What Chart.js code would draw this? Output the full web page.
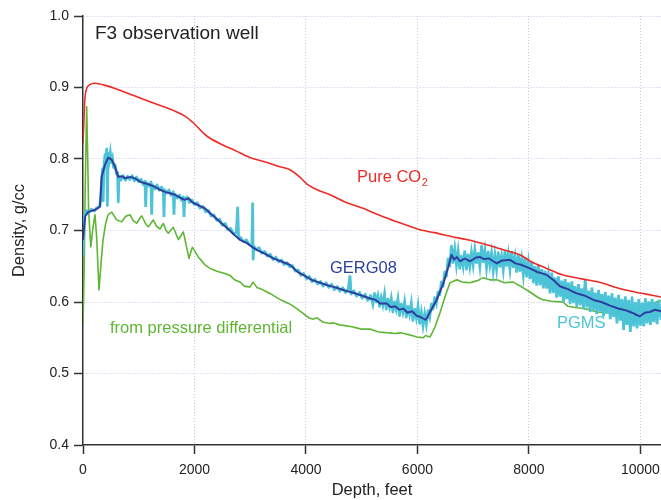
<!DOCTYPE html>
<html>
<head>
<meta charset="utf-8">
<title>F3 observation well</title>
<script src="https://cdn.jsdelivr.net/npm/chart.js@4.4.1/dist/chart.umd.min.js"></script>
<style>
	html, body { margin: 0; padding: 0; background: #fff; }
	#wrap { width: 661px; height: 500px; position: relative; }
</style>
</head>
<body>
<div id="wrap"><canvas id="chart"></canvas></div>
<script>
// axis ticks
const depthTicks = [0, 2000, 4000, 6000, 8000, 10000];
const densityTicks = [0.4, 0.5, 0.6, 0.7, 0.8, 0.9, 1.0];

// [depth ft, density g/cc]
const pureCO2 = [
	[0, 0.822], [15, 0.850], [35, 0.885], [66, 0.899], [120, 0.904], [215, 0.906],
	[400, 0.903], [600, 0.898], [897, 0.889], [1200, 0.880], [1450, 0.873], [1615, 0.868],
	[1830, 0.860], [2000, 0.849], [2150, 0.837], [2278, 0.829], [2500, 0.820], [2750, 0.811],
	[2996, 0.802], [3300, 0.795], [3500, 0.790], [3714, 0.785], [3900, 0.774], [4019, 0.765],
	[4200, 0.757], [4431, 0.750], [4700, 0.740], [5023, 0.731], [5300, 0.722], [5600, 0.713],
	[6044, 0.701], [6300, 0.697], [6642, 0.691], [6900, 0.687], [7240, 0.680], [7500, 0.674],
	[7838, 0.666], [8050, 0.656], [8318, 0.647], [8600, 0.638], [8970, 0.632], [9300, 0.627],
	[9580, 0.620], [9900, 0.614], [10100, 0.611], [10370, 0.607],
];

const gerg08 = [
	[0, 0.687], [20, 0.705], [40, 0.720], [95, 0.726], [215, 0.729], [305, 0.733],
	[335, 0.775], [395, 0.792], [454, 0.802], [515, 0.799], [574, 0.789], [633, 0.775],
	[700, 0.776], [753, 0.773], [850, 0.775], [933, 0.773], [1030, 0.768], [1112, 0.766],
	[1200, 0.764], [1292, 0.761], [1380, 0.757], [1471, 0.754], [1560, 0.752], [1650, 0.750],
	[1740, 0.746], [1830, 0.743], [1900, 0.745], [1950, 0.740], [2050, 0.736], [2189, 0.731],
	[2300, 0.723], [2400, 0.716], [2517, 0.708], [2620, 0.701], [2700, 0.695], [2817, 0.687],
	[2950, 0.682], [3050, 0.676], [3116, 0.673], [3250, 0.668], [3414, 0.661], [3550, 0.657],
	[3714, 0.652], [3850, 0.642], [4013, 0.635], [4130, 0.630], [4252, 0.627], [4400, 0.623],
	[4551, 0.620], [4700, 0.616], [4849, 0.613], [5000, 0.609], [5149, 0.605], [5250, 0.603],
	[5330, 0.598], [5448, 0.598], [5520, 0.593], [5600, 0.594], [5680, 0.589], [5746, 0.591],
	[5820, 0.585], [5900, 0.587], [5986, 0.581], [6050, 0.579], [6150, 0.575], [6200, 0.582],
	[6260, 0.591], [6345, 0.603], [6464, 0.626], [6553, 0.649], [6612, 0.666], [6660, 0.659],
	[6704, 0.663], [6763, 0.657], [6850, 0.661], [6943, 0.657], [7050, 0.662], [7120, 0.663],
	[7200, 0.660], [7280, 0.661], [7420, 0.654], [7520, 0.658], [7660, 0.659], [7760, 0.654],
	[7860, 0.652], [8018, 0.647], [8150, 0.642], [8318, 0.638], [8450, 0.630], [8557, 0.622],
	[8700, 0.618], [8857, 0.612], [9000, 0.609], [9155, 0.603], [9300, 0.600], [9454, 0.595],
	[9600, 0.591], [9754, 0.588], [9880, 0.584], [9993, 0.580], [10080, 0.585], [10172, 0.586],
	[10260, 0.589], [10370, 0.587],
];

const pgms = [
	[0, 0.665], [15, 0.700], [30, 0.722], [60, 0.728], [100, 0.724], [150, 0.730], [200, 0.727],
	[250, 0.732], [300, 0.734], [320, 0.748], [335, 0.770], [350, 0.786], [362, 0.740], [375, 0.790],
	[395, 0.806], [410, 0.796], [425, 0.814], [437, 0.735], [450, 0.808], [470, 0.798], [490, 0.809],
	[510, 0.795], [530, 0.801], [550, 0.788], [575, 0.792], [600, 0.779], [620, 0.781], [633, 0.740],
	[645, 0.776], [680, 0.770], [720, 0.777], [760, 0.770], [800, 0.776], [840, 0.771], [880, 0.777],
	[920, 0.769], [960, 0.775], [1000, 0.768], [1040, 0.772], [1080, 0.764], [1112, 0.769], [1125, 0.733],
	[1138, 0.767], [1180, 0.762], [1220, 0.768], [1232, 0.722], [1245, 0.764], [1290, 0.758], [1330, 0.764],
	[1370, 0.756], [1410, 0.761], [1441, 0.756], [1453, 0.719], [1465, 0.757], [1500, 0.752], [1540, 0.757],
	[1580, 0.749], [1620, 0.754], [1632, 0.722], [1645, 0.751], [1690, 0.745], [1730, 0.750], [1770, 0.742],
	[1800, 0.747], [1812, 0.719], [1825, 0.744], [1870, 0.747], [1910, 0.739], [1950, 0.743], [2000, 0.736],
	[2050, 0.739], [2100, 0.731], [2150, 0.734], [2200, 0.726], [2250, 0.728], [2300, 0.720], [2350, 0.722],
	[2400, 0.714], [2450, 0.716], [2500, 0.707], [2550, 0.710], [2600, 0.701], [2650, 0.703], [2700, 0.695],
	[2750, 0.697], [2775, 0.733], [2790, 0.692], [2830, 0.690], [2880, 0.684], [2930, 0.687], [2980, 0.680],
	[3030, 0.680], [3044, 0.739], [3052, 0.660], [3065, 0.678], [3110, 0.673], [3160, 0.676], [3210, 0.668],
	[3260, 0.671], [3310, 0.664], [3360, 0.667], [3410, 0.659], [3460, 0.663], [3510, 0.656], [3560, 0.659],
	[3610, 0.652], [3660, 0.655], [3710, 0.649], [3760, 0.651], [3810, 0.643], [3860, 0.645], [3910, 0.637],
	[3960, 0.640], [4010, 0.632], [4060, 0.636], [4110, 0.628], [4160, 0.632], [4210, 0.625], [4260, 0.629],
	[4310, 0.622], [4360, 0.627], [4410, 0.620], [4460, 0.625], [4510, 0.617], [4560, 0.622], [4610, 0.615],
	[4660, 0.620], [4710, 0.613], [4760, 0.618], [4790, 0.637], [4810, 0.611], [4860, 0.616], [4910, 0.608],
	[4960, 0.614], [5010, 0.605], [5060, 0.611], [5110, 0.602], [5160, 0.609],
	[5200, 0.597], [5230, 0.612], [5260, 0.600], [5290, 0.609], [5320, 0.594], [5350, 0.606], [5380, 0.596],
	[5410, 0.611], [5440, 0.590], [5470, 0.604], [5500, 0.593], [5530, 0.605], [5560, 0.586], [5590, 0.600],
	[5620, 0.590], [5650, 0.604], [5680, 0.581], [5710, 0.597], [5740, 0.586], [5770, 0.600], [5800, 0.579],
	[5830, 0.594], [5860, 0.583], [5890, 0.598], [5920, 0.574], [5950, 0.590], [5980, 0.578], [6010, 0.594],
	[6040, 0.570], [6070, 0.585], [6100, 0.567], [6130, 0.583], [6160, 0.569], [6190, 0.588], [6220, 0.579],
	[6250, 0.597], [6280, 0.590], [6310, 0.606], [6340, 0.598], [6370, 0.614], [6400, 0.610], [6430, 0.628],
	[6460, 0.622], [6490, 0.642], [6520, 0.636], [6550, 0.660], [6580, 0.650], [6610, 0.678], [6640, 0.655],
	[6670, 0.674], [6700, 0.652], [6730, 0.671], [6760, 0.647], [6790, 0.664], [6820, 0.650], [6850, 0.672],
	[6880, 0.646], [6910, 0.666], [6940, 0.650], [6970, 0.669], [7000, 0.652], [7030, 0.673], [7060, 0.655],
	[7090, 0.668], [7120, 0.650], [7150, 0.678], [7180, 0.656], [7210, 0.672], [7240, 0.648], [7270, 0.670],
	[7300, 0.652], [7330, 0.668], [7360, 0.644], [7390, 0.665], [7420, 0.646], [7450, 0.669], [7480, 0.650],
	[7510, 0.664], [7540, 0.645], [7570, 0.670], [7600, 0.651], [7630, 0.667], [7660, 0.646], [7690, 0.671],
	[7720, 0.649], [7750, 0.663], [7780, 0.641], [7810, 0.666], [7840, 0.644], [7870, 0.660], [7900, 0.638],
	[7930, 0.662], [7960, 0.636], [7990, 0.655], [8020, 0.632], [8050, 0.657], [8080, 0.628], [8110, 0.650],
	[8140, 0.623], [8170, 0.652], [8200, 0.625], [8230, 0.646], [8260, 0.619], [8290, 0.644], [8320, 0.620],
	[8350, 0.638], [8380, 0.612], [8410, 0.641], [8440, 0.614], [8470, 0.634], [8500, 0.606], [8530, 0.636],
	[8560, 0.609], [8590, 0.630], [8620, 0.600], [8650, 0.632], [8680, 0.604], [8710, 0.627], [8740, 0.597],
	[8770, 0.629], [8800, 0.600], [8830, 0.622], [8860, 0.593], [8890, 0.625], [8920, 0.597], [8950, 0.619],
	[8980, 0.590], [9010, 0.632], [9040, 0.594], [9070, 0.616], [9100, 0.586], [9130, 0.620], [9160, 0.590],
	[9190, 0.613], [9220, 0.583], [9250, 0.617], [9280, 0.588], [9310, 0.611], [9340, 0.580], [9370, 0.614],
	[9400, 0.584], [9430, 0.609], [9460, 0.576], [9490, 0.612], [9520, 0.579], [9550, 0.606], [9580, 0.570],
	[9610, 0.610], [9640, 0.574], [9670, 0.604], [9700, 0.561], [9730, 0.608], [9760, 0.568], [9790, 0.603],
	[9820, 0.558], [9850, 0.606], [9880, 0.566], [9910, 0.600], [9940, 0.563], [9970, 0.604], [10000, 0.567],
	[10030, 0.599], [10060, 0.566], [10090, 0.605], [10120, 0.570], [10150, 0.601], [10180, 0.568], [10210, 0.604],
	[10240, 0.572], [10270, 0.600], [10300, 0.569], [10330, 0.603], [10370, 0.575],
];

const pressureDiff = [
	[0, 0.568], [20, 0.640], [40, 0.760], [66, 0.873], [85, 0.800], [100, 0.729], [140, 0.677],
	[180, 0.705], [215, 0.722], [245, 0.691], [287, 0.617], [330, 0.660], [360, 0.687], [407, 0.710],
	[450, 0.722], [514, 0.726], [600, 0.715], [693, 0.712], [770, 0.720], [843, 0.722], [900, 0.714],
	[963, 0.710], [1052, 0.721], [1120, 0.710], [1172, 0.705], [1261, 0.715], [1320, 0.706], [1381, 0.702],
	[1441, 0.710], [1490, 0.700], [1531, 0.696], [1620, 0.705], [1670, 0.695], [1710, 0.687], [1800, 0.698],
	[1850, 0.680], [1902, 0.661], [1961, 0.677], [2069, 0.663], [2189, 0.652], [2278, 0.647], [2400, 0.643],
	[2500, 0.641], [2637, 0.637], [2720, 0.631], [2817, 0.628], [2900, 0.622], [2996, 0.621], [3050, 0.628],
	[3122, 0.620], [3200, 0.618], [3301, 0.614], [3400, 0.610], [3500, 0.605], [3600, 0.601], [3714, 0.597],
	[3850, 0.590], [3950, 0.584], [4050, 0.578], [4126, 0.576], [4200, 0.578], [4300, 0.572], [4431, 0.570],
	[4485, 0.571], [4600, 0.568], [4700, 0.567], [4844, 0.565], [5000, 0.562], [5150, 0.562], [5300, 0.558],
	[5454, 0.557], [5600, 0.556], [5700, 0.557], [5813, 0.555], [5900, 0.553], [5992, 0.551], [6100, 0.550],
	[6150, 0.553], [6225, 0.551], [6315, 0.565], [6405, 0.585], [6494, 0.607], [6584, 0.627], [6710, 0.631],
	[6800, 0.628], [6943, 0.627], [7080, 0.630], [7176, 0.634], [7300, 0.631], [7427, 0.631], [7560, 0.627],
	[7714, 0.628], [7850, 0.622], [8019, 0.614], [8150, 0.607], [8252, 0.603], [8400, 0.601], [8611, 0.600],
	[8700, 0.594], [8850, 0.592], [8970, 0.591], [9100, 0.589], [9221, 0.586], [9400, 0.585], [9700, 0.588],
	[10000, 0.592], [10200, 0.598], [10370, 0.602],
];

const FONT = '"Liberation Sans", Arial, Helvetica, sans-serif';
const RED = '#ee2b26';
const BLUE = '#2c3f9f';
const CYAN = '#4cc3d6';
const GREEN = '#5fb534';
const AXIS = '#333333';
const GRID = '#c6c6ea';

const toPoints = (rows) => rows.map(([x, y]) => ({ x, y }));

// text labels drawn on top of the curves
const curveLabels = {
	id: 'curveLabels',
	afterDatasetsDraw(chart) {
		const ctx = chart.ctx;
		ctx.save();
		ctx.textAlign = 'left';
		ctx.textBaseline = 'alphabetic';
		const put = (text, x, y, size, color) => {
			ctx.font = `${size}px ${FONT}`;
			ctx.fillStyle = color;
			ctx.fillText(text, x, y);
			return ctx.measureText(text).width;
		};
		put('F3 observation well', 95, 39, 19, '#222222');
		const w = put('Pure CO', 357, 182, 16.5, RED);
		put('2', 357 + w + 0.5, 186, 11, RED);
		put('GERG08', 330, 273, 16.5, BLUE);
		put('from pressure differential', 110, 333, 16.5, GREEN);
		put('PGMS', 557, 328, 16.5, CYAN);
		ctx.restore();
	},
};

const line = (label, rows, color, width, tension = 0) => ({
	label,
	data: toPoints(rows),
	borderColor: color,
	backgroundColor: color,
	borderWidth: width,
	pointRadius: 0,
	tension,
	fill: false,
});

document.addEventListener('DOMContentLoaded', () => {
	// first dataset is drawn on top.
	// a tiny tension keeps Chart.js off its min/max "fast path", so every
	// PGMS point is stroked and the noise reads as a band
	const datasets = [
		line('Pure CO2', pureCO2, RED, 1.6, 0.3),
		line('GERG08', gerg08, BLUE, 2, 0.01),
		line('PGMS', pgms, CYAN, 2.8, 0.01),
		line('from pressure differential', pressureDiff, GREEN, 1.6, 0.01),
	];

	// eslint-disable-next-line no-new
	new Chart(document.getElementById('chart'), {
		type: 'line',
		data: { datasets },
		plugins: [curveLabels],
		options: {
			responsive: true,
			maintainAspectRatio: false,
			animation: false,
			devicePixelRatio: 1,
			layout: { padding: { top: 16, right: 0, bottom: 0, left: 0 } },
			plugins: { legend: { display: false }, tooltip: { enabled: false } },
			scales: {
				x: {
					type: 'linear',
					min: 0,
					max: 10370,
					afterBuildTicks: (scale) => { scale.ticks = depthTicks.map((value) => ({ value })); },
					afterFit: (scale) => {
						scale.height = 55;
						scale.paddingLeft = 0;
						scale.paddingRight = 0;
					},
					ticks: {
						color: '#222',
						font: { family: FONT, size: 14 },
						padding: 8,
						maxRotation: 0,
						callback: (v) => String(v),
					},
					grid: {
						color: (c) => (c.tick && c.tick.value === 0 ? 'rgba(0,0,0,0)' : GRID),
						lineWidth: 1,
						tickColor: AXIS,
						tickLength: 9,
						tickWidth: 1.5,
					},
					border: { display: true, color: AXIS, width: 1.5, dash: [1, 2] },
					title: {
						display: true,
						text: 'Depth, feet',
						color: '#222',
						font: { family: FONT, size: 16.5 },
						padding: { top: 0, bottom: 0 },
					},
				},
				y: {
					type: 'linear',
					min: 0.4,
					max: 1.0,
					afterBuildTicks: (scale) => { scale.ticks = densityTicks.map((value) => ({ value })); },
					afterFit: (scale) => {
						scale.width = 83;
						scale.paddingTop = 0;
						scale.paddingBottom = 0;
					},
					ticks: {
						color: '#222',
						font: { family: FONT, size: 14 },
						padding: 5,
						callback: (v) => Number(v).toFixed(1),
					},
					grid: {
						color: (c) => (c.tick && Math.abs(c.tick.value - 0.4) < 1e-6 ? 'rgba(0,0,0,0)' : GRID),
						lineWidth: 1,
						tickColor: AXIS,
						tickLength: 9,
						tickWidth: 1.5,
					},
					border: { display: true, color: AXIS, width: 1.5, dash: [1, 2] },
					title: {
						display: true,
						text: 'Density, g/cc',
						color: '#222',
						font: { family: FONT, size: 16.5 },
						padding: { top: 10, bottom: 0 },
					},
				},
			},
		},
	});
});
</script>
</body>
</html>
